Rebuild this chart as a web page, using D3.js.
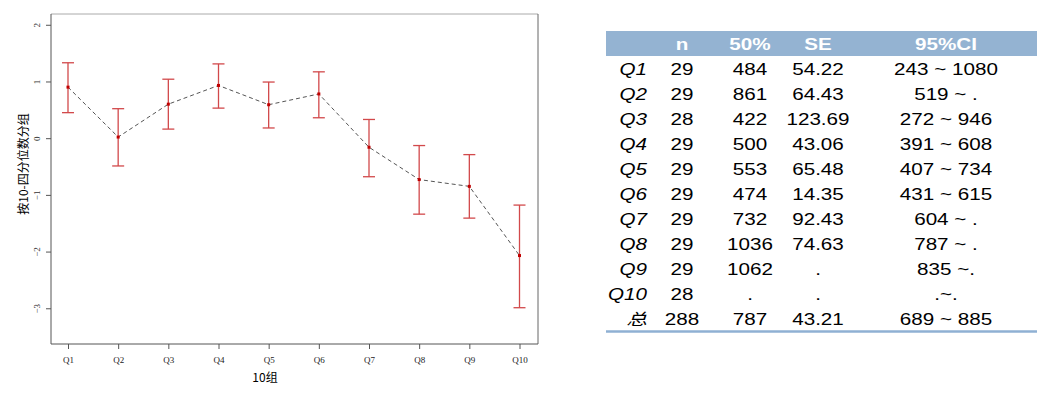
<!DOCTYPE html>
<html>
<head>
<meta charset="utf-8">
<script src="https://cdn.jsdelivr.net/npm/d3@7"></script>
<style>
  body { margin: 0; background: #fff; }
  svg { display: block; }
</style>
</head>
<body>
<div id="chart"></div>
<script>
// chart data
const groups = ['Q1', 'Q2', 'Q3', 'Q4', 'Q5', 'Q6', 'Q7', 'Q8', 'Q9', 'Q10'];
const means = [0.90, 0.02, 0.60, 0.93, 0.59, 0.78, -0.16, -0.73, -0.85, -2.07];
const upper = [1.33, 0.52, 1.04, 1.31, 0.99, 1.17, 0.33, -0.13, -0.29, -1.18];
const lower = [0.45, -0.49, 0.16, 0.53, 0.18, 0.36, -0.68, -1.34, -1.41, -2.99];
const yTicks = [-3, -2, -1, 0, 1, 2];

// table data
const headers = ['n', '50%', 'SE', '95%CI'];
const rowLabels = ['Q1', 'Q2', 'Q3', 'Q4', 'Q5', 'Q6', 'Q7', 'Q8', 'Q9', 'Q10', '总'];
const nCol = ['29', '29', '28', '29', '29', '29', '29', '29', '29', '28', '288'];
const medCol = ['484', '861', '422', '500', '553', '474', '732', '1036', '1062', '.', '787'];
const seCol = ['54.22', '64.43', '123.69', '43.06', '65.48', '14.35', '92.43', '74.63', '.', '.', '43.21'];
const ciCol = ['243 ~ 1080', '519 ~ .', '272 ~ 946', '391 ~ 608', '407 ~ 734', '431 ~ 615',
               '604 ~ .', '787 ~ .', '835 ~.', '.~.', '689 ~ 885'];

const w = 1039;
const h = 394;

const svg = d3.select('#chart')
              .append('svg')
              .attr('width', w)
              .attr('height', h);

//Plot frame
const pLeft = 51, pRight = 538, pTop = 14, pBottom = 344;

const data = groups.map((g, i) => ({ g: g, m: means[i], hi: upper[i], lo: lower[i] }));

const xScale = d3.scalePoint()
                 .domain(groups)
                 .range([68, 519.5]);

const yScale = d3.scaleLinear()
                 .domain([-3.63, 2.19])
                 .range([pBottom, pTop]);

svg.append('line')
   .attr('x1', pLeft).attr('x2', pRight).attr('y1', pTop).attr('y2', pTop)
   .attr('stroke', '#aaa').attr('stroke-width', 1);
svg.append('line')
   .attr('x1', pRight).attr('x2', pRight).attr('y1', pTop).attr('y2', pBottom)
   .attr('stroke', '#666').attr('stroke-width', 1);

//Axes
const yAxis = d3.axisLeft(yScale).tickValues(yTicks).tickFormat(d3.format('d'))
                .tickSize(5).tickSizeOuter(0);
const xAxis = d3.axisBottom(xScale).tickSize(5).tickSizeOuter(0).tickPadding(8);

const gy = svg.append('g')
   .attr('transform', `translate(${pLeft}, 0)`)
   .call(yAxis);
gy.select('.domain').attr('d', `M0,${pTop}V${pBottom}`).attr('stroke', '#555');
gy.selectAll('line').attr('stroke', '#555');
gy.selectAll('text')
  .attr('transform', 'rotate(-90)')
  .attr('x', 0)
  .attr('y', -11)
  .attr('dy', 0)
  .attr('text-anchor', 'middle')
  .style('font-family', '"Liberation Serif", serif')
  .style('font-size', '9px')
  .attr('fill', '#333');

const gx = svg.append('g')
   .attr('transform', `translate(0, ${pBottom})`)
   .call(xAxis);
gx.select('.domain').attr('d', `M${pLeft},0H${pRight}`).attr('stroke', '#555');
gx.selectAll('line').attr('stroke', '#555');
gx.selectAll('text')
  .style('font-family', '"Liberation Serif", serif')
  .style('font-size', '9px')
  .attr('fill', '#222');

//Axis labels
svg.append('text')
   .attr('x', 265)
   .attr('y', 382)
   .attr('text-anchor', 'middle')
   .style('font-family', '"Noto Sans CJK SC", sans-serif')
   .style('font-size', '12px')
   .text('10组');

svg.append('text')
   .attr('transform', 'translate(28, 164) rotate(-90)')
   .attr('text-anchor', 'middle')
   .style('font-family', '"Noto Sans CJK SC", sans-serif')
   .style('font-size', '12px')
   .text('按10-四分位数分组');

//Dashed mean line
svg.append('path')
   .datum(data)
   .attr('fill', 'none')
   .attr('stroke', '#555')
   .attr('stroke-width', 1)
   .attr('stroke-dasharray', '4,3')
   .attr('d', d3.line().x(d => xScale(d.g)).y(d => yScale(d.m)));

//Error bars
const bars = svg.selectAll('.err')
   .data(data)
   .enter()
   .append('g')
   .attr('class', 'err')
   .attr('stroke', '#d2494b')
   .attr('stroke-width', 1.3);

bars.append('line')
    .attr('x1', d => xScale(d.g)).attr('x2', d => xScale(d.g))
    .attr('y1', d => yScale(d.hi)).attr('y2', d => yScale(d.lo));
bars.append('line')
    .attr('x1', d => xScale(d.g) - 6).attr('x2', d => xScale(d.g) + 6)
    .attr('y1', d => yScale(d.hi)).attr('y2', d => yScale(d.hi));
bars.append('line')
    .attr('x1', d => xScale(d.g) - 6).attr('x2', d => xScale(d.g) + 6)
    .attr('y1', d => yScale(d.lo)).attr('y2', d => yScale(d.lo));

svg.selectAll('.pt')
   .data(data)
   .enter()
   .append('rect')
   .attr('class', 'pt')
   .attr('x', d => xScale(d.g) - 1.5)
   .attr('y', d => yScale(d.m) - 1.5)
   .attr('width', 3)
   .attr('height', 3)
   .attr('fill', '#c00000');

//Table
const tx0 = 606, tx1 = 1037;
const sx = 1.29;
const colX = [682, 750, 818, 946];
const rowY = d3.range(rowLabels.length).map(i => 69 + i * 25);

svg.append('rect')
   .attr('x', tx0).attr('y', 31)
   .attr('width', tx1 - tx0).attr('height', 25)
   .attr('fill', '#94b3d2');

svg.selectAll('.hdr')
   .data(headers)
   .enter()
   .append('text')
   .attr('class', 'hdr')
   .attr('transform', (d, i) => `translate(${colX[i]}, 49.5) scale(${sx},1)`)
   .attr('text-anchor', 'middle')
   .attr('fill', '#fff')
   .style('font-family', '"Liberation Sans", Arial, sans-serif')
   .style('font-weight', 'bold')
   .style('font-size', '16px')
   .text(d => d);

const cols = [nCol, medCol, seCol, ciCol];

svg.selectAll('.rlab')
   .data(rowLabels)
   .enter()
   .append('text')
   .attr('class', 'rlab')
   .attr('transform', (d, i) => `translate(647, ${rowY[i] + 5.7}) scale(${sx},1)`)
   .attr('text-anchor', 'end')
   .style('font-family', (d) => d === '总' ? '"Noto Sans CJK SC", sans-serif' : '"Liberation Sans", Arial, sans-serif')
   .style('font-style', 'italic')
   .style('font-size', '16px')
   .text(d => d);

cols.forEach((col, c) => {
  svg.selectAll('.c' + c)
     .data(col)
     .enter()
     .append('text')
     .attr('class', 'c' + c)
     .attr('transform', (d, i) => `translate(${colX[c]}, ${rowY[i] + 5.7}) scale(${sx},1)`)
     .attr('text-anchor', 'middle')
     .style('font-family', '"Liberation Sans", Arial, sans-serif')
     .style('font-size', '16px')
     .text(d => d);
});

svg.append('line')
   .attr('x1', tx0).attr('x2', tx1)
   .attr('y1', 331.5).attr('y2', 331.5)
   .attr('stroke', '#8fb0d3')
   .attr('stroke-width', 2.5);
</script>
</body>
</html>
